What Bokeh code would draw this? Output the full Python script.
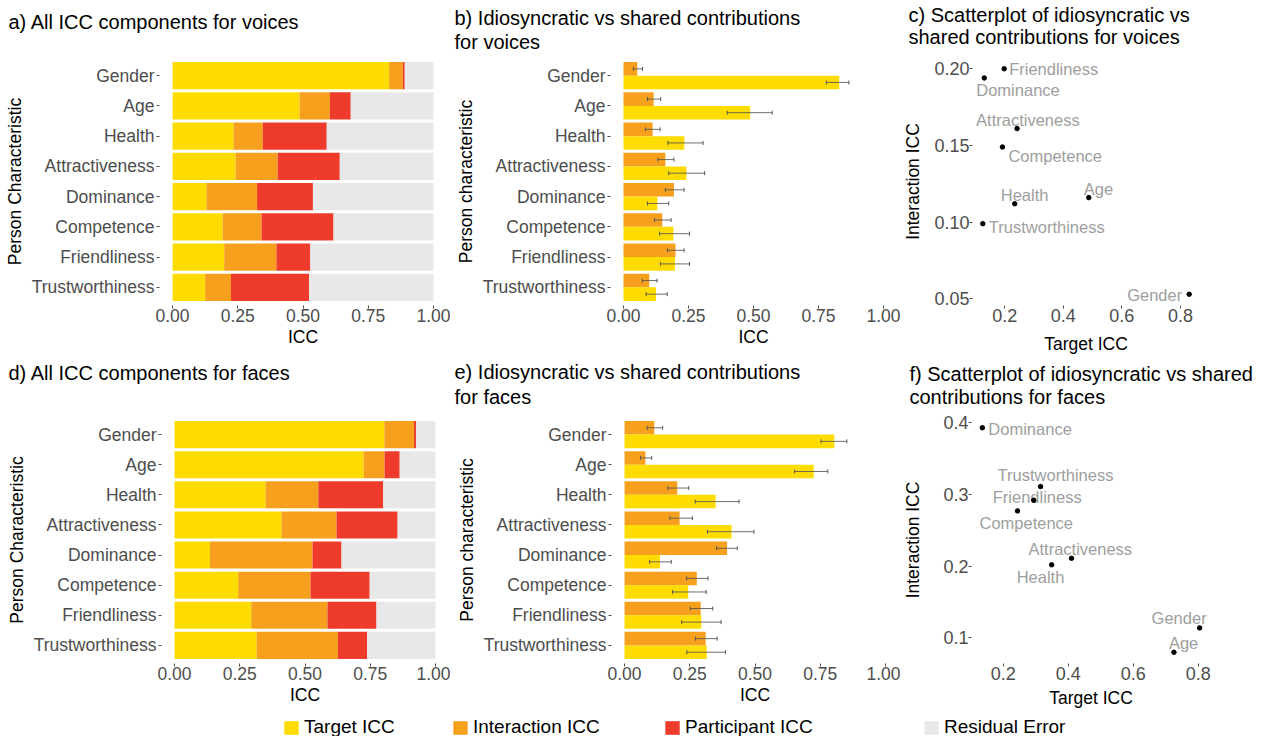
import numpy as np
from bokeh.plotting import figure
from bokeh.models import (ColumnDataSource, FactorRange, Range1d, FixedTicker,
                          NumeralTickFormatter, Title, Legend, LegendItem)
from bokeh.layouts import row, column
from bokeh.transform import dodge
from bokeh.embed import file_html
from bokeh.resources import INLINE

# ---------------------------------------------------------------- data
categories = ["Gender", "Age", "Health", "Attractiveness", "Dominance",
              "Competence", "Friendliness", "Trustworthiness"]
x_ticks_bar = [0.0, 0.25, 0.5, 0.75, 1.0]

# voices: variance components (proportions of total variance)
voice_target = [0.830, 0.487, 0.234, 0.242, 0.130, 0.192, 0.198, 0.125]
voice_interaction = [0.053, 0.116, 0.112, 0.161, 0.194, 0.149, 0.200, 0.099]
voice_participant = [0.007, 0.080, 0.245, 0.238, 0.214, 0.276, 0.130, 0.299]
voice_residual = [0.110, 0.317, 0.409, 0.359, 0.462, 0.383, 0.472, 0.477]
# voices: interval bounds
voice_target_lo = [0.780, 0.399, 0.171, 0.174, 0.092, 0.139, 0.142, 0.087]
voice_target_hi = [0.867, 0.572, 0.306, 0.312, 0.174, 0.254, 0.254, 0.168]
voice_inter_lo = [0.038, 0.092, 0.084, 0.132, 0.161, 0.119, 0.169, 0.072]
voice_inter_hi = [0.073, 0.143, 0.141, 0.194, 0.233, 0.183, 0.233, 0.129]

# faces: variance components
face_target = [0.804, 0.725, 0.349, 0.410, 0.136, 0.244, 0.294, 0.315]
face_interaction = [0.114, 0.080, 0.202, 0.211, 0.393, 0.277, 0.292, 0.311]
face_participant = [0.008, 0.058, 0.249, 0.234, 0.111, 0.227, 0.188, 0.112]
face_residual = [0.074, 0.137, 0.200, 0.145, 0.360, 0.252, 0.226, 0.262]
# faces: interval bounds
face_target_lo = [0.753, 0.652, 0.271, 0.318, 0.096, 0.184, 0.219, 0.239]
face_target_hi = [0.852, 0.779, 0.439, 0.496, 0.179, 0.313, 0.370, 0.387]
face_inter_lo = [0.087, 0.061, 0.166, 0.174, 0.353, 0.238, 0.252, 0.272]
face_inter_hi = [0.146, 0.104, 0.246, 0.260, 0.432, 0.320, 0.338, 0.355]

component_names = ["Target ICC", "Interaction ICC", "Participant ICC", "Residual Error"]

# ---------------------------------------------------------------- style
FONT = "Liberation Sans"
COLORS = ["#FFDC00", "#F6A01E", "#EE3B2B", "#E8E8E8"]
TICK_GRAY = "#4D4D4D"
LABEL_GRAY = "#9E9E9E"
ERR_GRAY = "#555555"
TICK_SIZE = "17.5px"
TITLE_SIZE = "20px"

# scatter label placement (screen px) and alignment, per category
voice_lab_dx = [-7, -5, -14, -41, -8, 6, 5, 6]
voice_lab_dy = [1, -9, -9, -9, 12, 9, 0, 3]
voice_lab_align = ["right", "left", "left", "left", "left", "left", "left", "left"]
face_lab_dx = [7, -5, -35, -43, 6, -38, -41, -43]
face_lab_dy = [-10, -9, 12, -9, 1, 12, -3, -12]
face_lab_align = ["right", "left", "left", "left", "left", "left", "left", "left"]


def new_fig(width, height, borders, x_range, y_range):
    left, top, right, bottom = borders
    p = figure(width=width, height=height, x_range=x_range, y_range=y_range,
               output_backend="svg", toolbar_location=None,
               min_border_left=left, min_border_top=top,
               min_border_right=right, min_border_bottom=bottom)
    p.title.text = ""
    p.background_fill_color = "white"
    p.border_fill_color = "white"
    p.outline_line_color = None
    p.grid.visible = False
    for ax in p.axis:
        ax.axis_line_color = None
        ax.major_tick_line_color = TICK_GRAY
        ax.major_tick_out = 3
        ax.major_tick_in = 0
        ax.minor_tick_line_color = None
        ax.major_label_text_font = FONT
        ax.major_label_text_font_size = TICK_SIZE
        ax.major_label_text_color = TICK_GRAY
        ax.major_label_standoff = 0
        ax.axis_label_text_font = FONT
        ax.axis_label_text_font_size = TICK_SIZE
        ax.axis_label_text_font_style = "normal"
        ax.axis_label_text_color = "black"
        ax.axis_label_standoff = 2
    p.yaxis.major_label_standoff = 2
    return p


def add_title(p, lines, offset, gaps):
    # lines listed top to bottom; the line nearest the plot is added first
    for line, gap in zip(reversed(lines), reversed(gaps)):
        t = Title(text=line, align="left", offset=offset, standoff=gap,
                  text_font=FONT, text_font_size=TITLE_SIZE,
                  text_font_style="normal", text_color="black")
        p.add_layout(t, "above")


def cat_range():
    return FactorRange(*reversed(categories), range_padding=0.1,
                       range_padding_units="absolute")


def stacked_panel(height, borders, target, inter, part, resid, ylabel, title_lines,
                  t_off, t_gaps):
    p = new_fig(450, height, borders, Range1d(-0.05, 1.05), cat_range())
    src = ColumnDataSource(dict(cat=categories, target=target, interaction=inter,
                                participant=part, residual=resid))
    rs = p.hbar_stack(["target", "interaction", "participant", "residual"],
                      y="cat", height=0.9, color=COLORS, line_color=None, source=src)
    p.xaxis.ticker = FixedTicker(ticks=x_ticks_bar)
    p.xaxis.formatter = NumeralTickFormatter(format="0.00")
    p.xaxis.axis_label = "ICC"
    p.yaxis.axis_label = ylabel
    p.yaxis.axis_label_standoff = 4
    add_title(p, title_lines, t_off, t_gaps)
    return p, rs


def dodged_panel(height, borders, target, inter, t_lo, t_hi, i_lo, i_hi, ylabel,
                 title_lines, t_off, t_gaps):
    p = new_fig(450, height, borders, Range1d(-0.05, 1.05), cat_range())
    src = ColumnDataSource(dict(cat=categories, target=target, interaction=inter,
                                t_lo=t_lo, t_hi=t_hi, i_lo=i_lo, i_hi=i_hi))
    y_int = dodge("cat", 0.225, range=p.y_range)
    y_tgt = dodge("cat", -0.225, range=p.y_range)
    p.hbar(y=y_int, right="interaction", left=0, height=0.45,
           fill_color=COLORS[1], line_color=None, source=src)
    p.hbar(y=y_tgt, right="target", left=0, height=0.45,
           fill_color=COLORS[0], line_color=None, source=src)
    for lo, hi, yy in (("i_lo", "i_hi", y_int), ("t_lo", "t_hi", y_tgt)):
        p.segment(x0=lo, x1=hi, y0=yy, y1=yy, line_color=ERR_GRAY, line_width=1,
                  line_alpha=0.85, source=src)
        for end in (lo, hi):
            p.scatter(x=end, y=yy, marker="dash", angle=np.pi / 2, size=4,
                      line_color=ERR_GRAY, line_width=1, source=src)
    p.xaxis.ticker = FixedTicker(ticks=x_ticks_bar)
    p.xaxis.formatter = NumeralTickFormatter(format="0.00")
    p.xaxis.axis_label = "ICC"
    p.yaxis.axis_label = ylabel
    p.yaxis.axis_label_standoff = 4
    add_title(p, title_lines, t_off, t_gaps)
    return p


def padded(vals):
    lo, hi = min(vals), max(vals)
    pad = 0.05 * (hi - lo)
    return Range1d(lo - pad, hi + pad)


def scatter_panel(height, borders, tx, iy, dx, dy, align, xt, yt, yfmt, title_lines,
                  t_off, t_gaps, xlab_standoff, ylab_standoff):
    p = new_fig(361, height, borders, padded(tx), padded(iy))
    src = ColumnDataSource(dict(x=tx, y=iy, name=categories, dx=dx, dy=dy, align=align))
    p.text(x="x", y="y", text="name", x_offset="dx", y_offset="dy",
           text_align="align", text_baseline="middle", text_color=LABEL_GRAY,
           text_font={"value": FONT}, text_font_size={"value": "16.5px"}, source=src)
    p.scatter(x="x", y="y", size=4.5, color="black", source=src)
    p.xaxis.ticker = FixedTicker(ticks=xt)
    p.xaxis.formatter = NumeralTickFormatter(format="0.0")
    p.yaxis.ticker = FixedTicker(ticks=yt)
    p.yaxis.formatter = NumeralTickFormatter(format=yfmt)
    for ax in p.axis:
        ax.major_label_text_font_size = "18px"
    p.yaxis.major_label_standoff = 0
    p.xaxis.axis_label = "Target ICC"
    p.yaxis.axis_label = "Interaction ICC"
    p.xaxis.axis_label_standoff = xlab_standoff
    p.yaxis.axis_label_standoff = ylab_standoff
    add_title(p, title_lines, t_off, t_gaps)
    return p


TOP_H = 360
BOT_H = 352
LEG_H = 24

# ---------------------------------------------------------------- voices
pa, _ = stacked_panel(TOP_H, (159, 57, 4, TOP_H - 57 - 248), voice_target,
                      voice_interaction, voice_participant, voice_residual,
                      "Person Characteristic",
                      ["a) All ICC components for voices", " "], -151, [0, 1])
pb = dodged_panel(TOP_H, (160, 57, 4, TOP_H - 57 - 248), voice_target, voice_interaction,
                  voice_target_lo, voice_target_hi, voice_inter_lo, voice_inter_hi,
                  "Person characteristic",
                  ["b) Idiosyncratic vs shared contributions", "for voices"],
                  -156, [-9, 9])
pc = scatter_panel(TOP_H, (70, 57, 62, TOP_H - 57 - 249), voice_target, voice_interaction,
                   voice_lab_dx, voice_lab_dy, voice_lab_align,
                   [0.2, 0.4, 0.6, 0.8], [0.05, 0.10, 0.15, 0.20], "0.00",
                   ["c) Scatterplot of idiosyncratic vs", "shared contributions for voices"],
                   -64, [-24, 20], 9, 8)

# ---------------------------------------------------------------- faces
pd_, rs_d = stacked_panel(BOT_H, (161, 54, 2, BOT_H - 54 - 249), face_target,
                          face_interaction, face_participant, face_residual,
                          "Person Characteristic",
                          ["d) All ICC components for faces", " "], -153, [-7, 12])
pe = dodged_panel(BOT_H, (161, 54, 2, BOT_H - 54 - 249), face_target, face_interaction,
                  face_target_lo, face_target_hi, face_inter_lo, face_inter_hi,
                  "Person characteristic",
                  ["e) Idiosyncratic vs shared contributions", "for faces"],
                  -157, [-15, 16.6])
pf = scatter_panel(BOT_H, (68, 56, 51, BOT_H - 56 - 249), face_target, face_interaction,
                   face_lab_dx, face_lab_dy, face_lab_align,
                   [0.2, 0.4, 0.6, 0.8], [0.1, 0.2, 0.3, 0.4], "0.0",
                   ["f) Scatterplot of idiosyncratic vs shared", "contributions for faces"],
                   -62, [-18.8, 17.4], 5, 17)

# ---------------------------------------------------------------- shared legend
pl = figure(width=1261, height=LEG_H, x_range=Range1d(0, 1), y_range=Range1d(0, 1),
            x_axis_location=None, y_axis_location=None, output_backend="svg",
            toolbar_location=None, min_border=0)
pl.title.text = ""
pl.outline_line_color = None
pl.grid.visible = False
legend_x = [282, 451, 663, 922]
for name, color, lx in zip(component_names, COLORS, legend_x):
    # zero-size key glyph: only its legend swatch is seen
    key_src = ColumnDataSource(dict(y=[0.5], left=[0.0], right=[0.0]))
    r = pl.hbar(y="y", left="left", right="right", height=0.0, fill_color=color,
                line_color=None, source=key_src)
    lg = Legend(items=[LegendItem(label=name, renderers=[r])], location=(lx, -2),
                orientation="horizontal", padding=0, margin=0, spacing=0,
                glyph_width=18, glyph_height=17, label_standoff=4, label_height=17,
                label_text_font=FONT, label_text_font_size="19px",
                label_text_color="black", label_text_baseline="middle",
                background_fill_alpha=0, border_line_color=None)
    pl.add_layout(lg)

layout = column(row(pa, pb, pc), row(pd_, pe, pf), pl)

open("out.html", "w").write(file_html(layout, INLINE))
